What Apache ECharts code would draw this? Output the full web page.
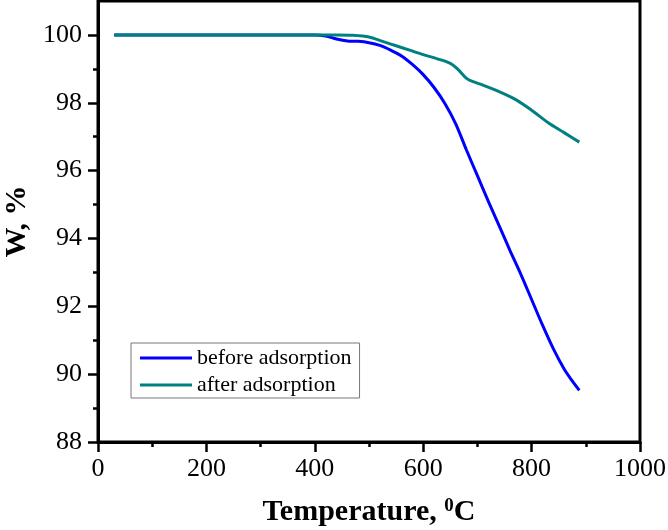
<!DOCTYPE html>
<html>
<head>
<meta charset="utf-8">
<script src="https://cdn.jsdelivr.net/npm/echarts@6/dist/echarts.min.js"></script>
<style>html,body{margin:0;padding:0;background:#fff}#c{width:668px;height:530px}</style>
</head>
<body>
<div id="c"></div>
<script>
var beforeTemp = [30, 400, 420, 440, 460, 480, 500, 520, 540, 560, 580, 600, 620, 640, 660, 680, 700, 720, 740, 760, 780, 800, 820, 840, 860, 875, 888];
var beforeW    = [100, 100, 99.97, 99.88, 99.82, 99.81, 99.77, 99.69, 99.55, 99.38, 99.13, 98.83, 98.45, 97.98, 97.38, 96.6, 95.85, 95.1, 94.38, 93.65, 92.95, 92.2, 91.45, 90.75, 90.15, 89.8, 89.52];
var afterTemp  = [30, 440, 470, 500, 525, 550, 575, 600, 625, 650, 665, 680, 692, 710, 740, 770, 800, 830, 860, 888];
var afterW     = [100, 100, 99.99, 99.94, 99.81, 99.68, 99.55, 99.42, 99.3, 99.16, 98.97, 98.72, 98.62, 98.52, 98.33, 98.1, 97.78, 97.42, 97.12, 96.84];
var seriesNames = ['before adsorption', 'after adsorption'];
var xMajor = [0, 200, 400, 600, 800, 1000];
var xMinor = [100, 300, 500, 700, 900];
var yMajor = [88, 90, 92, 94, 96, 98, 100];
var yMinor = [89, 91, 93, 95, 97, 99];

function pairs(xs, ys) { return xs.map(function (x, i) { return [x, ys[i]]; }); }

var serif = '"Liberation Serif","Times New Roman",serif';
var chart = echarts.init(document.getElementById('c'));
chart.setOption({
  animation: false,
  grid: { left: 98, right: 28, top: 1, bottom: 88, show: true, borderColor: '#000', borderWidth: 3,
          backgroundColor: 'transparent', containLabel: false, outerBoundsMode: 'none' },
  legend: {
    orient: 'vertical', left: 131, top: 343,
    padding: [4, 8, 2, 9], itemGap: 5, itemWidth: 52, itemHeight: 3, icon: 'rect',
    borderColor: '#777', borderWidth: 1, backgroundColor: '#fff',
    textStyle: { fontFamily: serif, fontSize: 22, color: '#000', lineHeight: 22 },
    data: seriesNames
  },
  xAxis: [{
    type: 'value', min: 0, max: 1000, interval: 200, position: 'bottom',
    name: '{b|Temperature, }{s|0}{b|C}', nameLocation: 'middle', nameGap: 55,
    nameTextStyle: { rich: {
      b: { fontFamily: serif, fontWeight: 'bold', fontSize: 30, color: '#000' },
      s: { fontFamily: serif, fontWeight: 'bold', fontSize: 19, color: '#000', verticalAlign: 'bottom', padding: [0, 0, 12, 0] }
    } },
    axisLine: { show: true, lineStyle: { color: '#000', width: 3 } },
    axisTick: { show: true, length: 10, lineStyle: { color: '#000', width: 2.5 }, customValues: xMajor },
    axisLabel: { fontFamily: serif, fontSize: 26, color: '#000', margin: 14, customValues: xMajor,
                 formatter: function (v) { return String(v); } },
    splitLine: { show: false }
  }, {
    type: 'value', min: 0, max: 1000, position: 'bottom',
    axisLine: { show: false },
    axisTick: { show: true, length: 5, lineStyle: { color: '#000', width: 2.5 }, customValues: xMinor },
    axisLabel: { show: false },
    splitLine: { show: false }
  }],
  yAxis: [{
    type: 'value', min: 88, max: 101, interval: 2, position: 'left',
    name: 'W, %', nameLocation: 'middle', nameGap: 64,
    nameTextStyle: { fontFamily: serif, fontWeight: 'bold', fontSize: 30, color: '#000' },
    axisLine: { show: true, lineStyle: { color: '#000', width: 3 } },
    axisTick: { show: true, length: 10, lineStyle: { color: '#000', width: 2.5 }, customValues: yMajor },
    axisLabel: { fontFamily: serif, fontSize: 26, color: '#000', margin: 16, customValues: yMajor,
                 formatter: function (v) { return String(v); } },
    splitLine: { show: false }
  }, {
    type: 'value', min: 88, max: 101, position: 'left',
    axisLine: { show: false },
    axisTick: { show: true, length: 5, lineStyle: { color: '#000', width: 2.5 }, customValues: yMinor },
    axisLabel: { show: false },
    splitLine: { show: false }
  }],
  series: [{
    name: seriesNames[0], type: 'line', xAxisIndex: 0, yAxisIndex: 0,
    data: pairs(beforeTemp, beforeW), showSymbol: false, symbol: 'none', smooth: 0.3,
    lineStyle: { color: '#0000ff', width: 3 }, itemStyle: { color: '#0000ff' }
  }, {
    name: seriesNames[1], type: 'line', xAxisIndex: 0, yAxisIndex: 0,
    data: pairs(afterTemp, afterW), showSymbol: false, symbol: 'none', smooth: 0.3,
    lineStyle: { color: '#008080', width: 3 }, itemStyle: { color: '#008080' }
  }]
});
</script>
</body>
</html>
